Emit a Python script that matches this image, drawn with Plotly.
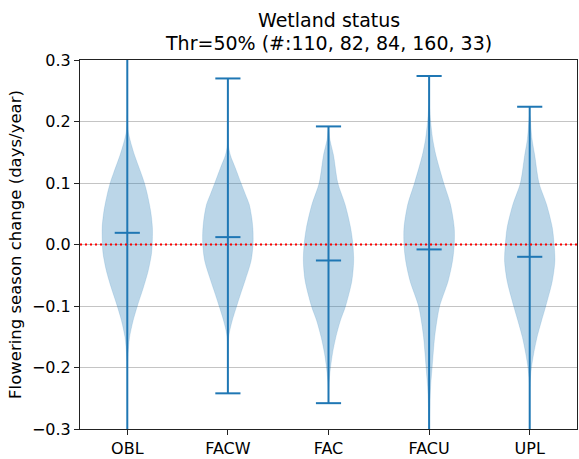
import plotly.graph_objects as go

categories = ["OBL", "FACW", "FAC", "FACU", "UPL"]
positions = [1, 2, 3, 4, 5]
means = [0.019, 0.012, -0.026, -0.008, -0.020]
maxs = [0.34, 0.270, 0.192, 0.274, 0.224]
mins = [-0.36, -0.242, -0.258, -0.33, -0.34]

# violin outlines: y values and relative half widths (1 = widest)
obl_y = [0.21, 0.199, 0.183, 0.167, 0.145, 0.118, 0.10, 0.081, 0.054, 0.027, 0.0, -0.016, -0.043, -0.07, -0.10, -0.124, -0.151, -0.177, -0.20]
obl_w = [0, 0.01, 0.04, 0.13, 0.29, 0.53, 0.68, 0.8, 0.93, 1.0, 0.99, 0.96, 0.83, 0.64, 0.4, 0.23, 0.09, 0.03, 0]
facw_y = [0.18, 0.172, 0.161, 0.145, 0.124, 0.10, 0.081, 0.065, 0.043, 0.022, 0.0, -0.027, -0.059, -0.081, -0.10, -0.124, -0.145, -0.161, -0.177]
facw_w = [0, 0.005, 0.02, 0.1, 0.3, 0.52, 0.7, 0.85, 0.95, 1.0, 1.0, 0.92, 0.68, 0.5, 0.35, 0.17, 0.05, 0.01, 0]
fac_y = [0.191, 0.172, 0.145, 0.10, 0.065, 0.027, 0.0, -0.027, -0.059, -0.10, -0.124, -0.151, -0.177, -0.20, -0.22, -0.237]
fac_w = [0, 0.05, 0.2, 0.37, 0.66, 0.88, 0.97, 1.0, 0.93, 0.68, 0.47, 0.29, 0.16, 0.08, 0.03, 0]
facu_y = [0.226, 0.20, 0.172, 0.145, 0.10, 0.065, 0.027, 0.0, -0.027, -0.059, -0.10, -0.124, -0.151, -0.20, -0.231, -0.258, -0.29, -0.31]
facu_w = [0, 0.06, 0.14, 0.27, 0.58, 0.85, 1.0, 1.0, 0.93, 0.76, 0.42, 0.31, 0.22, 0.12, 0.06, 0.03, 0.01, 0]
upl_y = [0.21, 0.172, 0.145, 0.10, 0.065, 0.027, 0.0, -0.027, -0.059, -0.10, -0.124, -0.151, -0.177, -0.20, -0.22, -0.231]
upl_w = [0, 0.09, 0.2, 0.37, 0.67, 0.9, 0.97, 1.0, 0.9, 0.64, 0.47, 0.29, 0.16, 0.07, 0.02, 0]

profiles = [(obl_y, obl_w), (facw_y, facw_w), (fac_y, fac_w), (facu_y, facu_w), (upl_y, upl_w)]

yticks = [-0.3, -0.2, -0.1, 0.0, 0.1, 0.2, 0.3]
ytick_text = ["\u22120.3", "\u22120.2", "\u22120.1", "0.0", "0.1", "0.2", "0.3"]

title_lines = ["Wetland status", "Thr=50% (#:110, 82, 84, 160, 33)"]

BLUE = "#1f77b4"
HALF = 0.25
CAP = 0.125
FONT = "DejaVu Sans"

fig = go.Figure()

for pos, (ys, ws) in zip(positions, profiles):
    xs = [pos + HALF * w for w in ws] + [pos - HALF * w for w in reversed(ws)]
    yy = list(ys) + list(reversed(ys))
    fig.add_trace(go.Scatter(
        x=xs, y=yy, mode="lines", fill="toself",
        fillcolor="rgba(31,119,180,0.3)",
        line=dict(width=0.5, color="rgba(31,119,180,0.3)", shape="spline", smoothing=0.8),
        hoverinfo="skip", showlegend=False,
    ))

for pos, mn, mx, me in zip(positions, mins, maxs, means):
    lx = [pos, pos, None, pos - CAP, pos + CAP, None, pos - CAP, pos + CAP, None, pos - CAP, pos + CAP]
    ly = [mn, mx, None, mx, mx, None, mn, mn, None, me, me]
    fig.add_trace(go.Scatter(
        x=lx, y=ly, mode="lines", line=dict(color=BLUE, width=2),
        hoverinfo="skip", showlegend=False,
    ))

fig.add_shape(type="line", xref="paper", x0=0, x1=1, yref="y", y0=0, y1=0,
              line=dict(color="red", width=2, dash="2px,3px"), layer="above")

fig.add_annotation(text=title_lines[0], xref="paper", yref="paper", x=0.5, y=1.108,
                   xanchor="center", yanchor="middle", showarrow=False, font=dict(size=19))
fig.add_annotation(text=title_lines[1], xref="paper", yref="paper", x=0.5, y=1.046,
                   xanchor="center", yanchor="middle", showarrow=False, font=dict(size=19))

fig.update_layout(
    width=579, height=459,
    margin=dict(l=80, r=1, t=60, b=27),
    paper_bgcolor="white", plot_bgcolor="white",
    font=dict(family=FONT, size=16, color="black"),
    showlegend=False,
)

fig.update_xaxes(
    range=[0.53, 5.47], tickmode="array", tickvals=positions, ticktext=categories,
    showgrid=False, zeroline=False, showline=True, mirror=True, linecolor="#222", linewidth=1,
    ticks="outside", ticklen=5, tickcolor="#222", tickfont=dict(size=16),
)
fig.update_yaxes(
    range=[-0.3, 0.3], tickmode="array", tickvals=yticks, ticktext=ytick_text,
    showgrid=True, gridcolor="#c4c4c4", gridwidth=1, zeroline=False,
    showline=True, mirror=True, linecolor="#222", linewidth=1,
    ticks="outside", ticklen=5, tickcolor="#222", tickfont=dict(size=16),
    title=dict(text="Flowering season change (days/year)", font=dict(size=16.5), standoff=6),
)

fig.write_html("out.html")
